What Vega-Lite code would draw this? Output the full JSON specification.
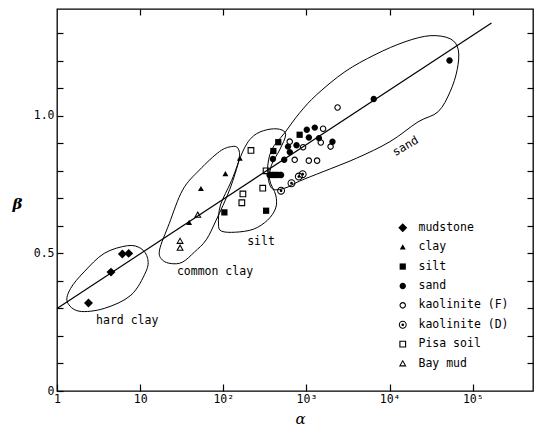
{
  "$schema": "https://vega.github.io/schema/vega-lite/v6.json",
  "width": 476,
  "height": 382,
  "autosize": {"type": "none"},
  "padding": {"left": 57, "top": 9, "right": 7, "bottom": 37},
  "background": "white",
  "config": {
    "view": {"stroke": "black", "strokeWidth": 1.3},
    "axis": {"domain": false, "grid": false, "tickColor": "black", "tickWidth": 1.2, "labelColor": "black", "labelFont": "DejaVu Sans Mono", "labelFontSize": 11.5, "titleColor": "black", "labelOverlap": false}
  },
  "datasets": {
    "pts": [
      {"a": 2.39, "b": 0.320, "soil": "mudstone"},
      {"a": 4.46, "b": 0.432, "soil": "mudstone"},
      {"a": 6.11, "b": 0.498, "soil": "mudstone"},
      {"a": 7.28, "b": 0.500, "soil": "mudstone"},
      {"a": 38.8, "b": 0.612, "soil": "clay"},
      {"a": 53.8, "b": 0.735, "soil": "clay"},
      {"a": 106, "b": 0.789, "soil": "clay"},
      {"a": 158, "b": 0.845, "soil": "clay"},
      {"a": 103, "b": 0.649, "soil": "silt"},
      {"a": 327, "b": 0.655, "soil": "silt"},
      {"a": 400, "b": 0.872, "soil": "silt"},
      {"a": 458, "b": 0.904, "soil": "silt"},
      {"a": 828, "b": 0.931, "soil": "silt"},
      {"a": 380, "b": 0.785, "soil": "silt"},
      {"a": 420, "b": 0.785, "soil": "silt"},
      {"a": 460, "b": 0.785, "soil": "silt"},
      {"a": 360, "b": 0.785, "soil": "sand"},
      {"a": 495, "b": 0.785, "soil": "sand"},
      {"a": 395, "b": 0.843, "soil": "sand"},
      {"a": 540, "b": 0.840, "soil": "sand"},
      {"a": 600, "b": 0.888, "soil": "sand"},
      {"a": 630, "b": 0.868, "soil": "sand"},
      {"a": 760, "b": 0.893, "soil": "sand"},
      {"a": 1009, "b": 0.949, "soil": "sand"},
      {"a": 1069, "b": 0.921, "soil": "sand"},
      {"a": 1259, "b": 0.957, "soil": "sand"},
      {"a": 1413, "b": 0.919, "soil": "sand"},
      {"a": 2053, "b": 0.906, "soil": "sand"},
      {"a": 6446, "b": 1.061, "soil": "sand"},
      {"a": 52500, "b": 1.201, "soil": "sand"},
      {"a": 2366, "b": 1.030, "soil": "kaolinite (F)"},
      {"a": 1585, "b": 0.953, "soil": "kaolinite (F)"},
      {"a": 1487, "b": 0.903, "soil": "kaolinite (F)"},
      {"a": 1950, "b": 0.888, "soil": "kaolinite (F)"},
      {"a": 722, "b": 0.840, "soil": "kaolinite (F)"},
      {"a": 1067, "b": 0.837, "soil": "kaolinite (F)"},
      {"a": 1342, "b": 0.837, "soil": "kaolinite (F)"},
      {"a": 629, "b": 0.906, "soil": "kaolinite (F)"},
      {"a": 910, "b": 0.886, "soil": "kaolinite (F)"},
      {"a": 495, "b": 0.728, "soil": "kaolinite (D)"},
      {"a": 661, "b": 0.755, "soil": "kaolinite (D)"},
      {"a": 809, "b": 0.779, "soil": "kaolinite (D)"},
      {"a": 900, "b": 0.788, "soil": "kaolinite (D)"},
      {"a": 215, "b": 0.874, "soil": "Pisa soil"},
      {"a": 327, "b": 0.800, "soil": "Pisa soil"},
      {"a": 298, "b": 0.737, "soil": "Pisa soil"},
      {"a": 172, "b": 0.716, "soil": "Pisa soil"},
      {"a": 167, "b": 0.684, "soil": "Pisa soil"},
      {"a": 49.3, "b": 0.640, "soil": "Bay mud"},
      {"a": 30.2, "b": 0.545, "soil": "Bay mud"},
      {"a": 30.2, "b": 0.520, "soil": "Bay mud"}
    ],
    "loops": [
      {"loop": "hard", "i": 1, "a": 1.33, "b": 0.324},
      {"loop": "hard", "i": 2, "a": 1.84, "b": 0.290},
      {"loop": "hard", "i": 3, "a": 3.69, "b": 0.300},
      {"loop": "hard", "i": 4, "a": 7.74, "b": 0.348},
      {"loop": "hard", "i": 5, "a": 11.7, "b": 0.433},
      {"loop": "hard", "i": 6, "a": 12.3, "b": 0.482},
      {"loop": "hard", "i": 7, "a": 10.2, "b": 0.518},
      {"loop": "hard", "i": 8, "a": 7.05, "b": 0.528},
      {"loop": "hard", "i": 9, "a": 3.69, "b": 0.500},
      {"loop": "hard", "i": 10, "a": 2.12, "b": 0.433},
      {"loop": "hard", "i": 11, "a": 1.46, "b": 0.373},
      {"loop": "common", "i": 1, "a": 17.1, "b": 0.512},
      {"loop": "common", "i": 2, "a": 18.5, "b": 0.476},
      {"loop": "common", "i": 3, "a": 23.7, "b": 0.463},
      {"loop": "common", "i": 4, "a": 32.2, "b": 0.468},
      {"loop": "common", "i": 5, "a": 45, "b": 0.505},
      {"loop": "common", "i": 6, "a": 62.2, "b": 0.549},
      {"loop": "common", "i": 7, "a": 82.1, "b": 0.621},
      {"loop": "common", "i": 8, "a": 119, "b": 0.731},
      {"loop": "common", "i": 9, "a": 154, "b": 0.840},
      {"loop": "common", "i": 10, "a": 150, "b": 0.882},
      {"loop": "common", "i": 11, "a": 125, "b": 0.888},
      {"loop": "common", "i": 12, "a": 90, "b": 0.870},
      {"loop": "common", "i": 13, "a": 51.6, "b": 0.803},
      {"loop": "common", "i": 14, "a": 32.5, "b": 0.731},
      {"loop": "common", "i": 15, "a": 22.4, "b": 0.609},
      {"loop": "silt", "i": 1, "a": 87.5, "b": 0.607},
      {"loop": "silt", "i": 2, "a": 92.5, "b": 0.676},
      {"loop": "silt", "i": 3, "a": 126, "b": 0.765},
      {"loop": "silt", "i": 4, "a": 175, "b": 0.876},
      {"loop": "silt", "i": 5, "a": 231, "b": 0.927},
      {"loop": "silt", "i": 6, "a": 332, "b": 0.949},
      {"loop": "silt", "i": 7, "a": 476, "b": 0.951},
      {"loop": "silt", "i": 8, "a": 562, "b": 0.931},
      {"loop": "silt", "i": 9, "a": 476, "b": 0.876},
      {"loop": "silt", "i": 10, "a": 381, "b": 0.822},
      {"loop": "silt", "i": 11, "a": 361, "b": 0.767},
      {"loop": "silt", "i": 12, "a": 427, "b": 0.712},
      {"loop": "silt", "i": 13, "a": 427, "b": 0.665},
      {"loop": "silt", "i": 14, "a": 341, "b": 0.621},
      {"loop": "silt", "i": 15, "a": 231, "b": 0.588},
      {"loop": "silt", "i": 16, "a": 140, "b": 0.577},
      {"loop": "silt", "i": 17, "a": 95, "b": 0.581},
      {"loop": "sand", "i": 1, "a": 381, "b": 0.737},
      {"loop": "sand", "i": 2, "a": 341, "b": 0.803},
      {"loop": "sand", "i": 3, "a": 381, "b": 0.876},
      {"loop": "sand", "i": 4, "a": 547, "b": 0.938},
      {"loop": "sand", "i": 5, "a": 830, "b": 1.011},
      {"loop": "sand", "i": 6, "a": 1331, "b": 1.077},
      {"loop": "sand", "i": 7, "a": 2897, "b": 1.160},
      {"loop": "sand", "i": 8, "a": 6668, "b": 1.222},
      {"loop": "sand", "i": 9, "a": 15350, "b": 1.269},
      {"loop": "sand", "i": 10, "a": 30700, "b": 1.291},
      {"loop": "sand", "i": 11, "a": 53500, "b": 1.280},
      {"loop": "sand", "i": 12, "a": 66900, "b": 1.240},
      {"loop": "sand", "i": 13, "a": 65000, "b": 1.168},
      {"loop": "sand", "i": 14, "a": 53500, "b": 1.088},
      {"loop": "sand", "i": 15, "a": 38400, "b": 1.015},
      {"loop": "sand", "i": 16, "a": 22000, "b": 0.978},
      {"loop": "sand", "i": 17, "a": 10100, "b": 0.906},
      {"loop": "sand", "i": 18, "a": 4010, "b": 0.846},
      {"loop": "sand", "i": 19, "a": 1585, "b": 0.797},
      {"loop": "sand", "i": 20, "a": 830, "b": 0.763},
      {"loop": "sand", "i": 21, "a": 547, "b": 0.737}
    ],
    "reg": [
      {"a": 1, "b": 0.30},
      {"a": 168000, "b": 1.337}
    ],
    "labels": [
      {"a": 6.99, "b": 0.255, "t": "hard clay", "ang": 0},
      {"a": 79.4, "b": 0.433, "t": "common clay", "ang": 0},
      {"a": 284, "b": 0.542, "t": "silt", "ang": 0},
      {"a": 15600, "b": 0.888, "t": "sand", "ang": -30}
    ]
  },
  "resolve": {"axis": {"x": "independent", "y": "independent"}},
  "layer": [
    {
      "data": {"name": "loops"},
      "mark": {"type": "line", "interpolate": "cardinal-closed", "stroke": "black", "strokeWidth": 1},
      "encoding": {
        "x": {"field": "a", "type": "quantitative", "scale": {"type": "log", "domain": [1, 530000], "nice": false},
          "axis": {"orient": "bottom", "values": [1, 10, 100, 1000, 10000, 100000],
            "labelExpr": "datum.value == 1 ? '1' : datum.value == 10 ? '10' : datum.value == 100 ? '10²' : datum.value == 1000 ? '10³' : datum.value == 10000 ? '10⁴' : '10⁵'",
            "tickSize": -7, "labelPadding": 9, "labelFlush": false,
            "title": "α", "titleFont": "DejaVu Serif", "titleFontStyle": "italic", "titleFontWeight": "normal", "titleFontSize": 15,
            "titleX": 243, "titleY": 27, "titleAlign": "center", "titleBaseline": "middle"}},
        "y": {"field": "b", "type": "quantitative", "scale": {"domain": [0, 1.388], "nice": false, "zero": false},
          "axis": {"orient": "left", "values": [0, 0.1, 0.2, 0.3, 0.4, 0.5, 0.6, 0.7, 0.8, 0.9, 1, 1.1, 1.2, 1.3],
            "labelExpr": "datum.value == 0 ? '0' : datum.value == 0.5 ? '0.5' : datum.value == 1 ? '1.0' : ''",
            "tickSize": -6, "labelPadding": 9,
            "title": "β", "titleFont": "DejaVu Serif", "titleFontStyle": "italic", "titleFontWeight": "bold", "titleFontSize": 15, "titleAngle": 0,
            "titleX": -40, "titleY": 194, "titleAlign": "center", "titleBaseline": "middle"}},
        "detail": {"field": "loop"},
        "order": {"field": "i", "type": "quantitative"}
      }
    },
    {
      "data": {"name": "reg"},
      "mark": {"type": "line", "stroke": "black", "strokeWidth": 1.2},
      "encoding": {
        "x": {"field": "a", "type": "quantitative", "scale": {"type": "log", "domain": [1, 530000], "nice": false},
          "axis": {"orient": "top", "values": [10, 100, 1000, 10000, 100000], "labels": false, "tickSize": -6, "title": null}},
        "y": {"field": "b", "type": "quantitative", "scale": {"domain": [0, 1.388], "nice": false, "zero": false},
          "axis": {"orient": "right", "values": [0.1, 0.2, 0.3, 0.4, 0.5, 0.6, 0.7, 0.8, 0.9, 1, 1.1, 1.2, 1.3], "labels": false, "tickSize": -6, "title": null}}
      }
    },
    {
      "data": {"name": "pts"},
      "mark": {"type": "point", "filled": true, "size": 64, "color": "black", "opacity": 1, "strokeWidth": 0},
      "encoding": {
        "x": {"field": "a", "type": "quantitative", "scale": {"type": "log", "domain": [1, 530000], "nice": false}, "axis": null},
        "y": {"field": "b", "type": "quantitative", "scale": {"domain": [0, 1.388], "nice": false, "zero": false}, "axis": null},
        "shape": {"field": "soil", "type": "nominal",
          "scale": {"domain": ["mudstone", "clay", "silt", "sand", "kaolinite (F)", "kaolinite (D)", "Pisa soil", "Bay mud"],
            "range": [
              "M0,-1.12L1.12,0L0,1.12L-1.12,0Z",
              "M0,-0.7L0.74,0.6L-0.74,0.6Z",
              "M-0.78,-0.78L0.78,-0.78L0.78,0.78L-0.78,0.78Z",
              "M-0.8,0A0.8,0.8,0,1,1,0.8,0A0.8,0.8,0,1,1,-0.8,0Z",
              "M-0.82,0A0.82,0.82,0,1,1,0.82,0A0.82,0.82,0,1,1,-0.82,0ZM-0.54,0A0.54,0.54,0,1,0,0.54,0A0.54,0.54,0,1,0,-0.54,0Z",
              "M-1,0A1,1,0,1,1,1,0A1,1,0,1,1,-1,0ZM-0.74,0A0.74,0.74,0,1,0,0.74,0A0.74,0.74,0,1,0,-0.74,0ZM-0.34,0A0.34,0.34,0,1,1,0.34,0A0.34,0.34,0,1,1,-0.34,0Z",
              "M-0.85,-0.85L0.85,-0.85L0.85,0.85L-0.85,0.85ZM-0.57,-0.57L-0.57,0.57L0.57,0.57L0.57,-0.57Z",
              "M0,-0.95L0.95,0.72L-0.95,0.72ZM0,-0.42L-0.5,0.45L0.5,0.45Z"
            ]},
          "legend": {"orient": "none", "legendX": 340, "legendY": 213, "title": null, "padding": 0,
            "labelFont": "DejaVu Sans Mono", "labelFontSize": 11.5, "labelColor": "black", "labelOffset": 10,
            "symbolSize": 64, "symbolFillColor": "black", "symbolStrokeWidth": 0, "symbolOpacity": 1, "rowPadding": 6.4}}
      }
    },
    {
      "data": {"name": "labels"},
      "mark": {"type": "text", "font": "DejaVu Sans Mono", "fontSize": 11.5, "color": "black", "align": "center", "baseline": "middle"},
      "encoding": {
        "x": {"field": "a", "type": "quantitative", "scale": {"type": "log", "domain": [1, 530000], "nice": false}, "axis": null},
        "y": {"field": "b", "type": "quantitative", "scale": {"domain": [0, 1.388], "nice": false, "zero": false}, "axis": null},
        "text": {"field": "t"},
        "angle": {"field": "ang", "type": "quantitative", "scale": null}
      }
    }
  ]
}
